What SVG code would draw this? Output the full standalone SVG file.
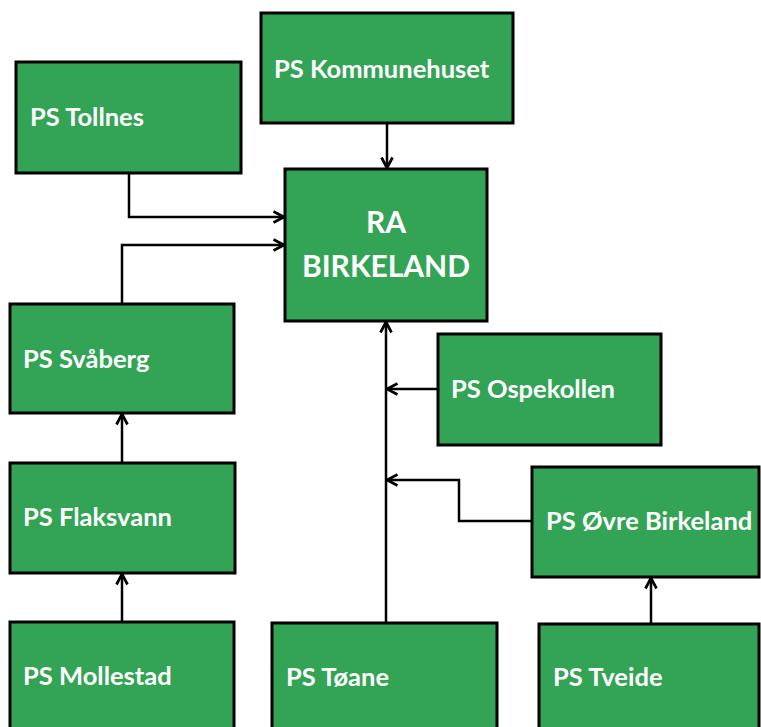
<svg xmlns="http://www.w3.org/2000/svg" width="761" height="727" viewBox="0 0 761 727">
<style>
.box{fill:#33a456;stroke:#000;stroke-width:3}
.lbl{font-family:Lato,"Open Sans",sans-serif;font-weight:bold;font-size:25.5px;fill:#fff}
.big{font-family:Lato,"Open Sans",sans-serif;font-weight:bold;font-size:30px;fill:#fff;text-anchor:middle}
.con{fill:none;stroke:#000;stroke-width:2.5;marker-end:url(#ah)}
</style>
<defs>
<marker id="ah" viewBox="0 0 14 14" refX="12.5" refY="7" markerWidth="14" markerHeight="14" markerUnits="userSpaceOnUse" orient="auto">
<polyline points="2,1.5 12.5,7 2,12.5" fill="none" stroke="#000" stroke-width="2.7"/>
</marker>
</defs>
<g id="connectors">
<path class="con" d="M387,123 L387,168"/>
<path class="con" d="M129,173 L129,217 L284,217"/>
<path class="con" d="M122,304 L122,245 L284,245"/>
<path class="con" d="M122,463 L122,414"/>
<path class="con" d="M122,622 L122,574"/>
<path class="con" d="M386,623 L386,322"/>
<path class="con" d="M438,389 L387,389"/>
<path class="con" d="M532,521 L459,521 L459,480 L387,480"/>
<path class="con" d="M651,624 L651,578"/>
</g>
<g id="n-kommunehuset"><rect class="box" x="261" y="13" width="252" height="110"/><text class="lbl" x="274" y="78">PS Kommunehuset</text></g>
<g id="n-tollnes"><rect class="box" x="16" y="62" width="225" height="111"/><text class="lbl" x="30" y="126">PS Tollnes</text></g>
<g id="n-ra"><rect class="box" x="285" y="169" width="202" height="152"/><text class="big" x="386" y="233">RA</text><text class="big" x="386" y="277">BIRKELAND</text></g>
<g id="n-svaberg"><rect class="box" x="10" y="304" width="224" height="109"/><text class="lbl" x="23" y="368">PS Svåberg</text></g>
<g id="n-ospekollen"><rect class="box" x="438" y="334" width="223" height="111"/><text class="lbl" x="451" y="398">PS Ospekollen</text></g>
<g id="n-flaksvann"><rect class="box" x="10" y="463" width="225" height="110"/><text class="lbl" x="23" y="526">PS Flaksvann</text></g>
<g id="n-ovre"><rect class="box" x="532" y="467" width="227" height="110"/><text class="lbl" x="546" y="530">PS Øvre Birkeland</text></g>
<g id="n-mollestad"><rect class="box" x="10" y="622" width="224" height="120"/><text class="lbl" x="23" y="685">PS Mollestad</text></g>
<g id="n-toane"><rect class="box" x="272" y="623" width="225" height="120"/><text class="lbl" x="286" y="686">PS Tøane</text></g>
<g id="n-tveide"><rect class="box" x="539" y="624" width="220" height="120"/><text class="lbl" x="553" y="686">PS Tveide</text></g>
</svg>
